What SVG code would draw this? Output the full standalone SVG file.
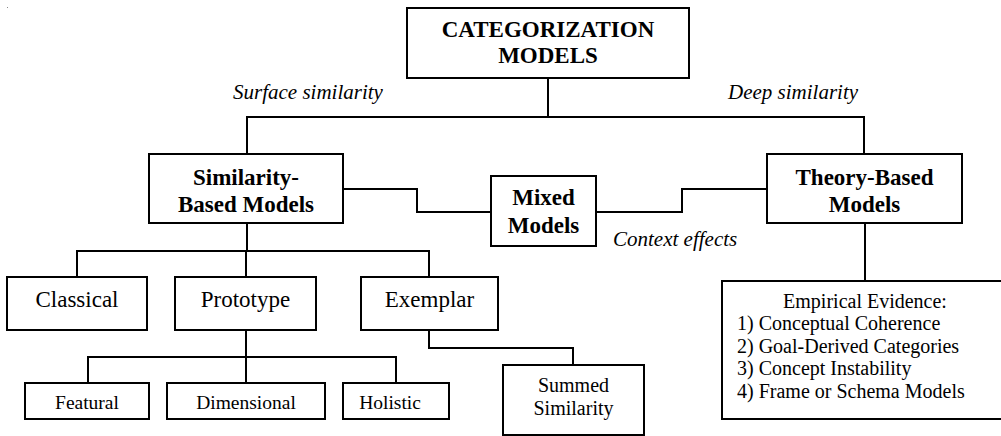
<svg xmlns="http://www.w3.org/2000/svg" width="1001" height="436" viewBox="0 0 1001 436" font-family="'Liberation Serif', Tinos, 'Times New Roman', 'DejaVu Serif', serif">
  <style>
    .box { fill: #fff; stroke: #000; stroke-width: 2; }
    .wire { fill: none; stroke: #000; stroke-width: 2; }
    text { font-family: 'Liberation Serif', Tinos, 'Times New Roman', 'DejaVu Serif', serif; fill: #000; }
    .title { font-size: 23px; font-weight: bold; text-anchor: middle; }
    .mid { font-size: 23px; text-anchor: middle; }
    .small { font-size: 19.5px; text-anchor: middle; }
    .list { font-size: 20px; }
    .note { font-size: 21px; font-style: italic; }
  </style>

  <rect x="7" y="7" width="1" height="1" fill="#888"/>

  <!-- connectors -->
  <g id="connectors" class="wire">
    <path d="M548 78 V117 M247 154 V117 H864 V154"/>
    <path d="M343 189 H417 V212 H491"/>
    <path d="M596 212 H682 V189 H767"/>
    <path d="M247 223 V251 M77 277 V251 H429 V277 M246 251 V277"/>
    <path d="M246 330 V357 M88 383 V357 H396 V383 M246 357 V383"/>
    <path d="M429 330 V348 H573 V365"/>
    <path d="M865 223 V281"/>
  </g>

  <!-- edge labels -->
  <g id="labels">
    <text class="note" x="233" y="99">Surface similarity</text>
    <text class="note" x="728" y="99">Deep similarity</text>
    <text class="note" x="613" y="246">Context effects</text>
  </g>

  <g id="root">
    <rect class="box" x="407" y="8" width="282" height="70"/>
    <text class="title" x="548" y="37">CATEGORIZATION</text>
    <text class="title" x="548" y="63">MODELS</text>
  </g>

  <g id="similarity">
    <rect class="box" x="149" y="154" width="194" height="69"/>
    <text class="title" x="246" y="185">Similarity-</text>
    <text class="title" x="246" y="212">Based Models</text>
  </g>

  <g id="mixed">
    <rect class="box" x="491" y="176" width="105" height="70"/>
    <text class="title" x="543.5" y="205">Mixed</text>
    <text class="title" x="543.5" y="233">Models</text>
  </g>

  <g id="theory">
    <rect class="box" x="767" y="154" width="195" height="69"/>
    <text class="title" x="864.5" y="185">Theory-Based</text>
    <text class="title" x="864.5" y="212">Models</text>
  </g>

  <g id="classical">
    <rect class="box" x="7" y="277" width="140" height="53"/>
    <text class="mid" x="77" y="307">Classical</text>
  </g>

  <g id="prototype">
    <rect class="box" x="175" y="277" width="141" height="53"/>
    <text class="mid" x="245.5" y="307">Prototype</text>
  </g>

  <g id="exemplar">
    <rect class="box" x="361" y="277" width="137" height="53"/>
    <text class="mid" x="429.5" y="307">Exemplar</text>
  </g>

  <g id="featural">
    <rect class="box" x="25" y="383" width="124" height="36"/>
    <text class="small" x="87" y="409">Featural</text>
  </g>

  <g id="dimensional">
    <rect class="box" x="167" y="383" width="158" height="36"/>
    <text class="small" x="246" y="409">Dimensional</text>
  </g>

  <g id="holistic">
    <rect class="box" x="343" y="383" width="106" height="36"/>
    <text class="small" x="390" y="409">Holistic</text>
  </g>

  <g id="summed">
    <rect class="box" x="503" y="365" width="141" height="70"/>
    <text class="small" x="573.5" y="392" style="font-size:20px">Summed</text>
    <text class="small" x="573.5" y="415" style="font-size:20px">Similarity</text>
  </g>

  <g id="evidence">
    <rect class="box" x="722" y="281" width="284" height="138"/>
    <text class="list" x="865" y="308" text-anchor="middle">Empirical Evidence:</text>
    <text class="list" x="737" y="330">1) Conceptual Coherence</text>
    <text class="list" x="737" y="352.5">2) Goal-Derived Categories</text>
    <text class="list" x="737" y="375">3) Concept Instability</text>
    <text class="list" x="737" y="398">4) Frame or Schema Models</text>
  </g>
</svg>
